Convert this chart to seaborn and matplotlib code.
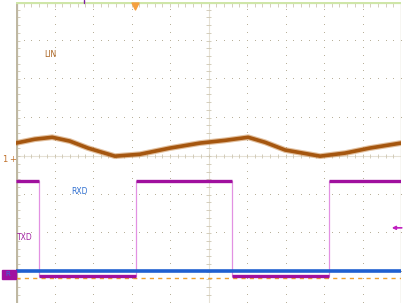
import numpy as np
import pandas as pd
import matplotlib
matplotlib.use("Agg")
import matplotlib.pyplot as plt
import matplotlib.patheffects as pe
import seaborn as sns

# ---- data (in scope divisions) ----
lin_t = [0.0, 0.49, 0.94, 1.40, 1.87, 2.57, 3.22, 4.0, 4.78, 5.43, 6.03, 6.47, 6.99, 7.90, 8.55, 9.19, 10.0]
lin_v = [0.34, 0.44, 0.49, 0.39, 0.21, 0.0, 0.05, 0.21, 0.34, 0.41, 0.49, 0.36, 0.16, 0.0, 0.08, 0.21, 0.34]

txd_t = [0.0, 0.60, 3.12, 5.61, 8.13, 10.0]
txd_v = [-0.65, -3.11, -0.65, -3.11, -0.65, -0.65]

rxd_t = [0.0, 10.0]
rxd_v = [-2.98, -2.98]

gnd_level = -3.16

labels = ["LIN", "RXD", "TXD"]
label_x = [0.88, 1.66, 0.23]
label_y = [2.64, -0.91, -2.12]
label_c = ["#a8601c", "#2f6fd0", "#a020a0"]

sns.set_style("white")
fig = plt.figure(figsize=(4.03, 3.03), dpi=100)
ax = fig.add_axes([16 / 403, 0, 385 / 403, 301 / 303])
ax.set_xlim(0, 10)
ax.set_ylim(-3.81, 4.0)
ax.axis("off")

grid_c = "#b8b09a"
tick_c = "#cdc6b2"
# dotted graticule (single-pixel dots)
xs = np.arange(0, 10.001, 0.2)
ys = np.arange(-3.8, 4.001, 0.2)
for gx in range(1, 10):
    if gx == 5:
        continue
    ax.plot(np.full_like(ys, gx), ys, ",", color=grid_c, zorder=1)
for gy in [-3, -2, -1, 1, 2, 3]:
    ax.plot(xs, np.full_like(xs, gy), ",", color=grid_c, zorder=1)

# centre lines with minor ticks
ax.axvline(5, color="#e6e1d5", lw=0.8, zorder=1)
ax.axhline(0, color="#e6e1d5", lw=0.8, zorder=1)
ax.hlines(ys, 5 - 0.07, 5 + 0.07, color=tick_c, lw=0.6, zorder=1)
ax.vlines(xs, -0.06, 0.06, color=tick_c, lw=0.6, zorder=1)
# left edge with ticks
ax.axvline(0.02, color="#bfb8a2", lw=1.6, zorder=2)
ax.hlines(ys, 0, 0.1, color=tick_c, lw=0.6, zorder=1)
# right edge
ax.axvline(9.99, color="#d8d2bf", lw=1.0, zorder=2)
# top edge
ax.axhline(3.97, color="#cfe6a8", lw=1.6, zorder=2)
ax.vlines(xs, 3.86, 3.97, color=tick_c, lw=0.6, zorder=1)

# ground reference dashes
ax.axhline(gnd_level, color="#f0a030", lw=1.0, ls=(0, (3, 3)), zorder=3)

# traces
df_lin = pd.DataFrame({"t": lin_t, "v": lin_v})
sns.lineplot(data=df_lin, x="t", y="v", ax=ax, color="#a5560f", lw=2.6,
             estimator=None, sort=False, zorder=4,
             path_effects=[pe.Stroke(linewidth=4.2, foreground="#c98a4c", alpha=0.55), pe.Normal()])

df_txd = pd.DataFrame({"t": txd_t, "v": txd_v})
sns.lineplot(data=df_txd, x="t", y="v", ax=ax, color="#e291e2", lw=0.9,
             drawstyle="steps-post", estimator=None, sort=False, zorder=4)
ax.hlines(txd_v[:-1], txd_t[:-1], txd_t[1:], color="#a0109e", lw=2.4, zorder=5)

df_rxd = pd.DataFrame({"t": rxd_t, "v": rxd_v})
sns.lineplot(data=df_rxd, x="t", y="v", ax=ax, color="#1f5fd0", lw=2.6,
             estimator=None, sort=False, zorder=6)

# labels
for s, x, y, c in zip(labels, label_x, label_y, label_c):
    ax.text(x, y, s, color=c, fontsize=5.5, ha="center", va="center", zorder=7)

# channel markers
fig.text(2 / 403, 1 - 160 / 303, "1", color="#c0702a", fontsize=6, ha="left", va="center")
fig.text(9 / 403, 1 - 160 / 303, "+", color="#c0702a", fontsize=6, ha="left", va="center")
fig.patches.append(plt.Rectangle((2 / 403, 1 - 279 / 303), 14 / 403, 9 / 303,
                                 transform=fig.transFigure, color="#a010a0", zorder=5))
fig.text(5 / 403, 1 - 274 / 303, "R", color="#3070d8", fontsize=5, ha="left", va="center", zorder=6)
ax.annotate("", xy=(9.76, -1.86), xytext=(10.02, -1.86),
            arrowprops=dict(arrowstyle="-|>", color="#c020c0", lw=1.2, mutation_scale=5,
                            shrinkA=0, shrinkB=0),
            zorder=7, annotation_clip=False)
ax.scatter([3.09], [3.9], marker="v", s=25, color="#f5a040", zorder=7, clip_on=False)
ax.plot([1.76, 1.76], [3.97, 4.05], color="#8020a0", lw=1.0, clip_on=False, zorder=7)

fig.savefig("out.png", dpi=100)
